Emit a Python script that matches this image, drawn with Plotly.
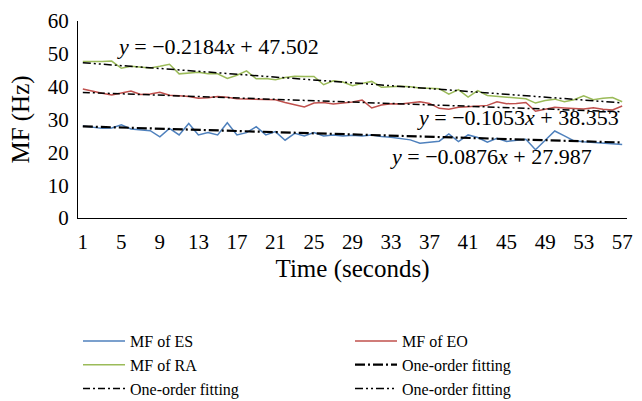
import plotly.graph_objects as go

# time axis (seconds) and median frequency of each muscle
time_s = list(range(1, 58))

mf_es = [28.0, 27.7, 27.3, 27.4, 28.4, 27.1, 26.8, 26.6, 24.7, 27.3,
         25.3, 28.8, 25.3, 26.0, 25.3, 29.0, 25.3, 26.0, 27.8, 25.3,
         26.3, 23.7, 25.8, 25.0, 26.0, 25.0, 25.3, 25.0, 25.2, 25.0,
         25.3, 24.8, 24.6, 24.3, 23.8, 22.8, 23.0, 23.4, 25.6, 23.3,
         25.3, 24.5, 23.1, 24.3, 23.3, 23.6, 24.0, 20.8, 23.5, 26.5,
         25.0, 23.5, 23.2, 23.0, 22.9, 22.7, 22.4]

mf_eo = [39.3, 38.6, 38.0, 37.5, 38.2, 38.7, 37.6, 37.8, 38.3, 37.4,
         37.2, 37.0, 36.5, 36.6, 37.0, 36.8, 36.3, 36.2, 36.3, 36.1,
         36.0, 35.2, 34.6, 33.8, 35.0, 35.2, 34.7, 35.0, 35.3, 35.9,
         33.5, 34.4, 34.8, 34.7, 35.0, 35.4, 34.9, 33.4, 33.1, 33.7,
         33.9, 34.0, 34.3, 35.4, 34.8, 34.9, 35.2, 32.5, 33.2, 33.7,
         33.5, 33.4, 33.2, 33.6, 33.1, 32.9, 34.1]

mf_ra = [47.7, 47.6, 47.7, 47.8, 45.6, 46.2, 46.0, 45.7, 46.2, 46.8,
         43.9, 44.2, 44.4, 43.9, 43.9, 42.5, 43.5, 44.8, 42.4, 42.5,
         42.1, 42.8, 43.2, 43.1, 43.1, 40.6, 41.8, 41.4, 40.3, 41.0,
         41.6, 39.8, 40.0, 40.1, 40.0, 39.6, 39.5, 39.4, 37.7, 39.1,
         36.8, 38.8, 37.3, 37.0, 36.8, 36.6, 36.3, 35.0, 35.8, 36.2,
         35.4, 36.0, 37.2, 36.0, 36.5, 36.7, 35.4]

# one-order fitting coefficients shown on the chart
fit_slope = {'ES': -0.0876, 'EO': -0.1053, 'RA': -0.2184}
fit_intercept = {'ES': 27.987, 'EO': 38.353, 'RA': 47.502}

x_ticks = list(range(1, 58, 4))
y_ticks = [0, 10, 20, 30, 40, 50, 60]

FONT = "Liberation Serif"

fig = go.Figure()

series = [
    ('MF of ES', mf_es, '#4F81BD'),
    ('MF of EO', mf_eo, '#C0504D'),
    ('MF of RA', mf_ra, '#9BBB59'),
]
for name, vals, color in series:
    fig.add_trace(go.Scatter(x=time_s, y=vals, mode='lines', name=name,
                             line=dict(color=color, width=1.5)))

fit_styles = [
    ('ES', dict(color='black', width=2.2, dash='10px,3px,2px,3px')),
    ('EO', dict(color='black', width=1.5, dash='7px,3px,2px,3px')),
    ('RA', dict(color='black', width=1.5, dash='8px,3px,2px,3px,2px,3px')),
]
for key, style in fit_styles:
    fit_y = [fit_slope[key] * t + fit_intercept[key] for t in time_s]
    fig.add_trace(go.Scatter(x=time_s, y=fit_y, mode='lines',
                             name='One-order fitting', line=style))


def eq_text(slope, icpt):
    return "<i>y</i> = \u2212%.4f<i>x</i> + %.3f" % (abs(slope), icpt)


eq_pos = {'RA': (15.0, 52.2), 'EO': (46.2, 30.5), 'ES': (43.4, 18.8)}
for key, (ex, ey) in eq_pos.items():
    fig.add_annotation(x=ex, y=ey, text=eq_text(fit_slope[key], fit_intercept[key]),
                       showarrow=False, font=dict(family=FONT, size=22, color='black'))

fig.update_layout(
    width=642, height=401,
    margin=dict(l=78, r=15, t=21, b=183, autoexpand=False),
    plot_bgcolor='white', paper_bgcolor='white',
    font=dict(family=FONT, size=21, color='black'),
    showlegend=True,
    legend=dict(orientation='h', x=0.0, xanchor='left', y=-0.538, yanchor='top',
                entrywidth=215, entrywidthmode='pixels', itemwidth=42,
                font=dict(family=FONT, size=16), tracegroupgap=0,
                traceorder='normal'),
    xaxis=dict(range=[0.5, 57.5], tickvals=x_ticks, showgrid=False, zeroline=False,
               showline=True, linecolor='black', linewidth=1.2, ticks='',
               ticklabelstandoff=5,
               title=dict(text='Time (seconds)', standoff=6)),
    yaxis=dict(range=[0, 60], tickvals=y_ticks, showgrid=False, zeroline=False,
               showline=True, linecolor='black', linewidth=1.2, ticks='',
               ticklabelstandoff=4,
               title=dict(text='MF (Hz)', standoff=10)),
)

fig.write_html("out.html", config={'displayModeBar': False},
               post_script="document.body.style.margin='0';")
